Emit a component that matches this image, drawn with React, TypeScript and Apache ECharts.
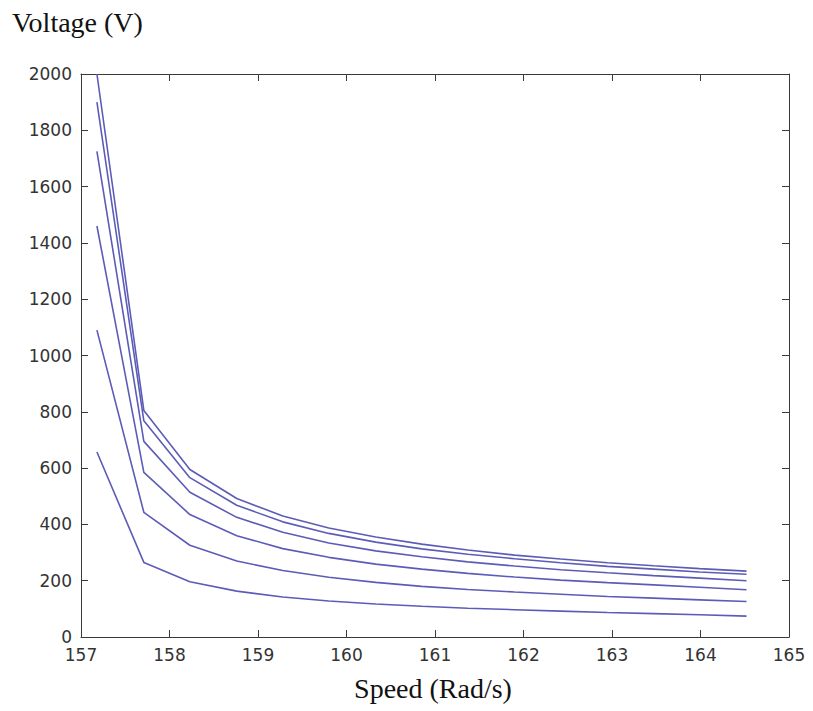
import React, { useEffect, useRef } from "react";
import * as echarts from "echarts";

// Speed values (rad/s)
const speeds = [157.18, 157.71, 158.23, 158.76, 159.28, 159.8, 160.33, 160.85, 161.37, 161.9, 162.42, 162.95, 163.47, 163.99, 164.52];

// Voltage curves (V), top to bottom
const curve1 = [2000, 805, 595, 492, 430, 387, 355, 330, 309, 291, 277, 264, 253, 243, 234];
const curve2 = [1900, 768, 566, 468, 409, 368, 337, 313, 294, 278, 264, 251, 241, 231, 223];
const curve3 = [1725, 695, 514, 425, 372, 334, 306, 285, 267, 252, 239, 228, 218, 209, 200];
const curve4 = [1460, 585, 435, 360, 314, 283, 259, 241, 226, 213, 202, 193, 185, 177, 168];
const curve5 = [1090, 443, 326, 270, 236, 212, 194, 180, 169, 160, 152, 144, 138, 132, 126];
const curve6 = [657, 265, 196, 163, 142, 128, 117, 109, 102, 97, 92, 87, 83, 79, 74];

const curves = [curve1, curve2, curve3, curve4, curve5, curve6];

const yAxisTitle = "Voltage (V)";
const xAxisTitle = "Speed (Rad/s)";

const X_MIN = 157;
const X_MAX = 165;
const X_STEP = 1;
const Y_MIN = 0;
const Y_MAX = 2000;
const Y_STEP = 200;

const W = 813;
const H = 711;
const GRID = { left: 81, right: 24, top: 74, bottom: 74 };

export default function App() {
  const ref = useRef<HTMLDivElement>(null);

  useEffect(() => {
    if (!ref.current) return;
    const chart = echarts.init(ref.current, null, { renderer: "svg" });
    const axisColor = "#3a3a3a";
    const plotW = W - GRID.left - GRID.right;
    const plotH = H - GRID.top - GRID.bottom;
    const labelStyle = {
      color: "#333",
      fontFamily: "DejaVu Sans",
      fontSize: 17,
      lineHeight: 13,
      formatter: (v: number) => String(v),
    };
    const tick = { show: true, length: 7, lineStyle: { color: axisColor, width: 1 } };
    const line = { show: true, onZero: false, lineStyle: { color: axisColor, width: 1 } };
    const noLine = { show: false, onZero: false };
    const xBase = { type: "value", min: X_MIN, max: X_MAX, interval: X_STEP, splitLine: { show: false } };
    const yBase = { type: "value", min: Y_MIN, max: Y_MAX, interval: Y_STEP, splitLine: { show: false } };

    chart.setOption({
      animation: false,
      backgroundColor: "#ffffff",
      grid: { ...GRID, containLabel: false },
      xAxis: [
        {
          ...xBase,
          position: "bottom",
          axisLine: line,
          axisTick: { show: false },
          axisLabel: { ...labelStyle, margin: 11, showMinLabel: true, showMaxLabel: true },
        },
        {
          // inward ticks on the bottom edge
          ...xBase,
          position: "top",
          offset: -plotH,
          axisLine: noLine,
          axisTick: tick,
          axisLabel: { show: false },
        },
        {
          // top edge line with inward ticks
          ...xBase,
          position: "bottom",
          offset: -plotH,
          axisLine: line,
          axisTick: tick,
          axisLabel: { show: false },
        },
      ],
      yAxis: [
        {
          ...yBase,
          position: "left",
          axisLine: line,
          axisTick: { show: false },
          axisLabel: { ...labelStyle, margin: 9, showMinLabel: true, showMaxLabel: true },
        },
        {
          // inward ticks on the left edge
          ...yBase,
          position: "right",
          offset: -plotW,
          axisLine: noLine,
          axisTick: tick,
          axisLabel: { show: false },
        },
        {
          // right edge line with inward ticks
          ...yBase,
          position: "left",
          offset: -plotW,
          axisLine: line,
          axisTick: tick,
          axisLabel: { show: false },
        },
      ],
      graphic: [
        {
          type: "text",
          left: 12,
          top: 8,
          style: {
            text: yAxisTitle,
            fill: "#111",
            font: '28px "Liberation Serif"',
          },
        },
        {
          type: "text",
          x: 433,
          y: 688,
          style: {
            text: xAxisTitle,
            fill: "#111",
            font: '28px "Liberation Serif"',
            textAlign: "center",
            textVerticalAlign: "middle",
          },
        },
      ],
      series: curves.map((c, k) => ({
        name: "curve" + (k + 1),
        type: "line",
        xAxisIndex: 0,
        yAxisIndex: 0,
        symbol: "none",
        lineStyle: { color: "#5c5cb8", width: 1.6 },
        data: speeds.map((s, i) => [s, c[i]]),
      })),
    });
    return () => chart.dispose();
  }, []);

  return (
    <div
      ref={ref}
      style={{ position: "fixed", left: 0, top: 0, width: W, height: H, background: "#fff" }}
    />
  );
}
